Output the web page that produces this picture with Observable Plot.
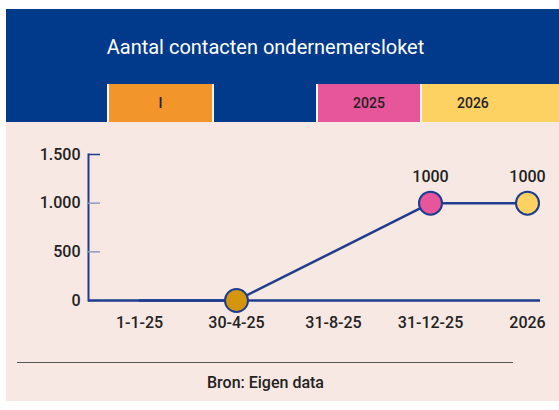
<!DOCTYPE html>
<html>
<head>
<meta charset="utf-8">
<script src="https://cdn.jsdelivr.net/npm/d3@7"></script>
<script src="https://cdn.jsdelivr.net/npm/@observablehq/plot@0.6"></script>
<style>
  html, body { margin: 0; padding: 0; background: #ffffff; }
  body { width: 559px; height: 410px; overflow: hidden; font-family: Roboto, "DejaVu Sans", sans-serif; }
  #wrap { position: absolute; left: 6px; top: 9px; width: 553px; }
  #title { height: 75px; background: #013a8b; color: #ffffff; font-size: 20px; font-weight: 400; display: flex; align-items: center; justify-content: center; padding-right: 34px; box-sizing: border-box; }
  #strip { height: 38px; display: flex; background: #fdf3ee; }
  #strip div { height: 38px; display: flex; align-items: center; justify-content: center; font-size: 14px; font-weight: 500; color: #222; margin-right: 2px; box-sizing: border-box; }
  #panel { background: #f8e8e3; height: 279px; position: relative; }
  #rule { position: absolute; left: 11px; width: 496px; top: 240px; border-top: 1.5px solid #555; }
  #caption { position: absolute; left: 0; width: 519px; top: 251px; text-align: center; font-size: 16px; font-weight: 500; color: #222; }
</style>
</head>
<body>
<div id="wrap">
  <div id="title">Aantal contacten ondernemersloket</div>
  <div id="strip"></div>
  <div id="panel">
    <div id="chart"></div>
    <div id="rule"></div>
    <div id="caption">Bron: Eigen data</div>
  </div>
</div>
<script>
// Data
const title = "Aantal contacten ondernemersloket";
const dates = ["1-1-25", "30-4-25", "31-8-25", "31-12-25", "2026"];
const contacts = [0, 0, 500, 1000, 1000];
const markedDates = ["30-4-25", "31-12-25", "2026"];
const markedValues = [0, 1000, 1000];
const markedLabels = ["", "1000", "1000"];
const yTicks = [0, 500, 1000, 1500];
const stripLabels = ["", "I", "", "2025", "2026"];

// Styles
const stripColors = ["#013a8b", "#f2952b", "#013a8b", "#e7559a", "#fdd162"];
const stripWidths = [101, 103, 102, 102, 137];
const dotColors = ["#d4960c", "#e7559a", "#fdd162"];
const navy = "#1e3d8e";

const strip = document.getElementById("strip");
stripLabels.forEach((lab, i) => {
  const d = document.createElement("div");
  d.style.background = stripColors[i];
  d.style.width = stripWidths[i] + "px";
  if (i === stripLabels.length - 1) { d.style.marginRight = "0"; d.style.justifyContent = "flex-start"; d.style.paddingLeft = "35px"; }
  d.textContent = lab;
  strip.appendChild(d);
});

const lineData = dates.map((d, i) => ({date: d, value: contacts[i]}));
const dotData = markedDates.map((d, i) => ({date: d, value: markedValues[i], color: dotColors[i], label: markedLabels[i]}));
const nf = d3.format(",");
const fmt = v => nf(v).replace(/,/g, ".");

const chart = Plot.plot({
  width: 553,
  height: 240,
  marginTop: 32,
  marginBottom: 62,
  marginLeft: 82,
  marginRight: 19,
  style: {background: "transparent", fontFamily: "Roboto, 'DejaVu Sans', sans-serif", fontSize: "16px", fontWeight: 500, color: "#222"},
  x: {type: "point", domain: dates, range: [131, 522], padding: 0, label: null},
  y: {domain: [0, 1500], label: null},
  marks: [
    Plot.frame({anchor: "left", stroke: navy, strokeWidth: 2}),
    Plot.axisY(yTicks, {tickSize: -12, tickFormat: () => "", stroke: d => d === 1500 ? navy : "#8d9cc3", strokeWidth: 1.5}),
    Plot.axisY(yTicks, {tickSize: 0, tickPadding: 8, tickFormat: fmt, fill: "#222", fontSize: 16, fontWeight: 500}),
    Plot.axisX(dates, {tickSize: 0, tickPadding: 16, fill: "#222", fontSize: 16, fontWeight: 500}),
    Plot.ruleY([0], {stroke: navy, strokeWidth: 2.5}),
    Plot.line(lineData, {x: "date", y: "value", stroke: navy, strokeWidth: 2.5}),
    Plot.dot(dotData, {x: "date", y: "value", r: 11.5, fill: "color", stroke: navy, strokeWidth: 2}),
    Plot.text(dotData, {x: "date", y: "value", text: "label", dy: -26, fontSize: 16, fontWeight: 500, fill: "#222"})
  ]
});
document.getElementById("chart").appendChild(chart);
</script>
</body>
</html>
